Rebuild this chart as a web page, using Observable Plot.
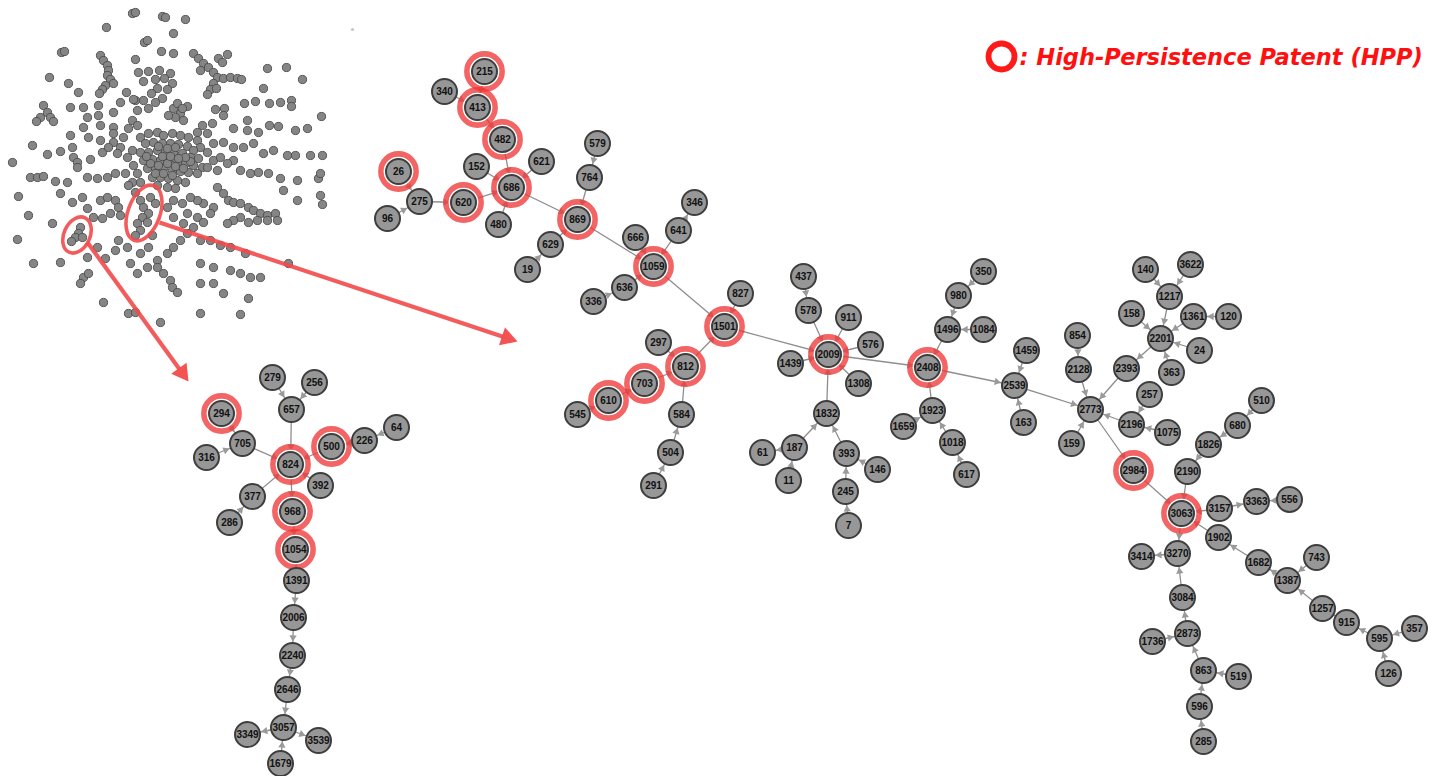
<!DOCTYPE html>
<html><head><meta charset="utf-8">
<script src="https://cdn.jsdelivr.net/npm/d3@7"></script>
<script src="https://cdn.jsdelivr.net/npm/@observablehq/plot@0.6"></script>
<style>body{margin:0;background:#fff}#chart{width:1445px;height:776px}</style>
</head><body><div id="chart"></div>
<script>
// ---- data ----
const nodeIds = [294,279,256,657,705,316,824,500,226,64,392,377,286,968,1054,1391,2006,2240,2646,3057,3349,3539,1679,
215,340,413,482,26,152,621,686,275,620,96,480,579,764,869,346,641,629,666,19,1059,636,336,827,1501,297,812,703,610,545,584,504,291,
437,578,911,576,2009,1439,1308,1832,187,61,11,393,146,245,7,350,980,1496,1084,2408,1923,1659,1018,617,1459,2539,163,854,2128,2773,159,
140,3622,1217,158,1361,120,2201,24,2393,363,257,2196,1075,510,680,1826,2190,2984,3063,3157,3363,556,1902,3414,3270,1682,743,1387,3084,
1257,915,2873,1736,595,357,863,519,126,596,285];
const nodeX = [221,272,314,291,242,206,290,331,364,396,320,252,229,292,295,296,293,292,287,283,247,318,280,
484,444,477,502,398,476,541,511,419,463,387,498,597,589,577,694,678,550,635,527,653,624,593,740,724,658,685,644,608,577,681,670,653,
803,808,848,870,828,790,858,826,794,762,788,846,877,845,848,983,958,947,983,927,932,903,952,966,1026,1014,1023,1077,1078,1090,1071,
1145,1190,1169,1131,1193,1228,1160,1199,1126,1171,1149,1131,1167,1261,1237,1208,1187,1133,1181,1219,1256,1289,1218,1141,1177,1258,1316,1287,1182,
1322,1346,1187,1152,1379,1414,1203,1238,1388,1199,1203];
const nodeY = [413,377,382,409,443,457,464,446,440,427,485,496,522,511,549,580,617,655,689,727,734,740,763,
71,91,107,139,171,166,161,187,201,202,218,224,143,177,219,202,230,244,237,269,266,287,301,293,326,342,366,383,400,414,414,452,485,
276,310,317,344,354,363,383,413,447,452,480,453,469,491,525,271,295,329,329,367,410,426,442,474,350,385,422,335,369,409,443,
269,264,296,313,316,316,338,350,368,372,394,424,432,400,425,444,471,470,513,508,501,499,537,556,553,562,557,580,597,
608,622,633,641,638,628,670,676,673,706,741];
const hppIds = [294,824,500,968,1054,215,413,482,26,686,620,869,1059,1501,812,703,610,2009,2408,2984,3063];
const edgeSource = [279,256,657,294,316,705,500,226,64,392,377,286,824,968,1054,1391,2006,2240,2646,3057,3057,1679,
215,340,413,482,152,621,480,620,26,96,275,686,579,764,629,19,869,666,641,641,636,336,1059,827,812,297,703,610,545,584,504,291,
1501,578,437,911,576,1439,1308,1832,187,187,11,393,146,245,7,2009,1496,980,350,1084,1923,1659,1018,617,2408,1459,163,2539,2128,854,
2393,2201,1217,140,3622,158,1361,120,24,363,2196,257,1075,159,2773,2984,2190,1826,680,510,3157,3157,556,1902,1682,1387,743,1257,915,
595,357,126,3063,3270,3084,2873,1736,863,519,596,285];
const edgeTarget = [657,657,824,705,705,824,824,500,226,824,824,377,968,1054,1391,2006,2240,2646,3057,3349,3539,3057,
413,413,482,686,686,686,686,686,275,275,620,869,764,869,869,629,1059,1059,1059,346,1059,636,1501,1501,1501,812,812,703,610,812,584,504,
2009,2009,578,2009,2009,2009,2009,2009,1832,61,187,1832,393,393,245,2408,2408,1496,980,1496,2408,1923,1923,1018,2539,2539,2539,2773,2773,2128,
2773,2393,2201,1217,1217,2201,2201,1361,2201,2201,2773,2196,2196,2773,2984,3063,3063,2190,1826,680,3063,3363,3363,3063,1902,1682,1387,1387,1257,
915,595,595,3270,3414,3270,3084,2873,2873,863,863,596];
// overview network (small dots, image pixels)
const overviewDots = [[132,13],[135,12],[162,16],[165,17],[185,19],[106,27],[173,33],[144,42],[147,40],[61,52],[64,51],[161,51],[173,53],[135,59],
[100,55],[103,60],[107,65],[108,70],[107,75],[110,79],[113,83],[105,85],[102,89],[99,93],
[193,53],[198,58],[203,63],[208,67],[200,70],[213,72],[218,58],[222,62],[227,54],[217,77],[223,78],[230,77],[237,78],[241,79],[213,83],[210,89],[207,94],[216,88],
[49,77],[68,83],[78,92],
[138,72],[148,71],[159,70],[170,73],[143,81],[155,79],[164,78],[172,83],[157,88],[167,89],[151,93],[162,98],[126,92],[135,100],[143,100],[155,102],[148,108],[137,110],[133,99],
[267,68],[286,67],[302,79],[263,88],[255,101],[244,103],[269,103],[280,102],[291,100],[291,106],[321,116],
[224,108],[215,109],[187,106],[173,108],[180,113],[183,120],[175,117],[168,115],[177,103],[182,108],
[43,105],[47,112],[40,117],[50,117],[36,121],[53,121],
[70,107],[83,107],[98,105],[87,117],[98,115],[113,112],[120,102],[132,120],[128,128],[137,125],[113,127],[113,133],[100,125],[83,127],[70,135],[88,137],[100,140],[113,142],[123,137],
[202,125],[212,123],[223,115],[233,128],[247,120],[247,130],[258,132],[269,125],[278,126],[295,130],[307,128],[207,133],[197,132],
[32,145],[47,154],[60,151],[72,147],[73,157],[77,162],[90,159],[102,152],[108,147],[120,147],[117,153],
[140,137],[148,133],[157,132],[163,135],[172,133],[180,135],[188,137],[197,140],[200,147],[207,152],
[145,143],[153,142],[162,143],[170,143],[178,144],[187,146],[193,150],
[140,152],[148,152],[157,150],[165,152],[173,152],[182,153],[190,157],[198,158],
[143,160],[152,159],[160,160],[168,160],[177,162],[185,163],[193,165],[202,167],
[147,168],[155,168],[163,168],[172,170],[180,171],[188,172],[197,173],
[152,177],[160,177],[168,178],[177,180],[185,182],[157,185],[167,187],[175,188],
[132,150],[127,157],[133,165],[137,173],[140,182],[207,167],[213,160],[220,157],[217,170],
[158,146],[167,148],[175,147],[150,163],[158,165],[167,163],[175,166],[183,168],[190,161],[146,156],[185,157],[162,156],[170,156],[178,158],[155,173],[163,173],[172,175],
[213,143],[223,142],[233,147],[243,147],[253,143],[263,153],[273,150],[287,155],[295,155],[310,155],[322,155],[233,160],[227,163],[240,170],[250,173],[258,172],[268,173],[280,178],[297,180],[318,178],[283,190],[297,200],[320,195],[322,204],
[12,162],[30,177],[37,177],[43,176],[55,181],[67,182],[77,167],[87,177],[97,178],[107,177],[115,173],[125,173],[132,182],[18,196],[28,215],[52,223],[60,193],[72,202],[82,197],[87,208],[100,200],[107,197],[115,200],[118,207],[110,213],[102,218],[93,217],[120,215],[128,185],[135,192],
[140,200],[143,207],[148,213],[142,217],[137,223],[147,222],[140,230],[150,197],[155,203],
[80,227],[78,233],[75,237],[82,237],[71,241],
[217,187],[223,193],[228,200],[233,202],[240,203],[248,207],[253,210],[260,213],[267,215],[275,213],[277,220],[267,220],[257,220],[248,222],[240,217],[233,220],[227,223],[213,207],[210,213],[203,203],[197,200],[190,197],[182,203],[173,200],[167,207],[173,217],[187,213],[197,217],[203,222],[193,227],[183,223],
[17,239],[33,263],[60,262],[87,257],[97,247],[83,277],[80,283],[88,273],[105,258],[118,240],[115,250],[127,247],[135,235],[152,235],[148,247],[140,253],[130,263],[137,273],[147,267],[157,260],[167,253],[173,247],[180,240],[187,233],[200,240],[210,240],[220,245],[230,247],[245,253],
[157,267],[163,273],[170,280],[172,287],[177,292],[200,263],[213,267],[230,270],[240,273],[250,277],[260,277],[200,283],[213,283],[223,293],[248,298],[103,302],[128,313],[135,312],[160,322],[200,313],[240,314],[288,263],[320,173]];
const strayDot = [[352,29]];
// zoom call-outs
const calloutCx = [77,144], calloutCy = [235,213], calloutRx = [13,16], calloutRy = [19,29], calloutAngle = [25,20];
const arrowX1 = [87,159], arrowY1 = [242,222], arrowX2 = [188,517], arrowY2 = [381,341];
const legendText = ": High-Persistence Patent (HPP)";
const legendPos = {ring:[1001,56], text:[1019,57]};

// ---- derived ----
const nodeIndex = new Map(nodeIds.map((id,i)=>[id,i]));
const nodes = nodeIds.map((id,i)=>({id, x:nodeX[i], y:nodeY[i], hpp:hppIds.includes(id)}));
const R = 13.8;
function head(x1,y1,x2,y2,inset,r){
  const dx=x2-x1, dy=y2-y1, L=Math.hypot(dx,dy), ux=dx/L, uy=dy/L;
  const tx=x2-ux*inset, ty=y2-uy*inset, off=1.555*r;
  return {x1,y1,x2,y2,tx,ty,hx:tx-ux*off,hy:ty-uy*off,bx:tx-ux*off*1.4,by:ty-uy*off*1.4,angle:Math.atan2(dx,-dy)*180/Math.PI};
}
const edges = edgeSource.map((s,i)=>{
  const a=nodes[nodeIndex.get(s)], b=nodes[nodeIndex.get(edgeTarget[i])];
  return head(a.x,a.y,b.x,b.y,R,2.7);
});
const callArrows = arrowX1.map((x,i)=>head(x,arrowY1[i],arrowX2[i],arrowY2[i],0,7));
const callouts = calloutCx.map((cx,i)=>({cx,cy:calloutCy[i],rx:calloutRx[i],ry:calloutRy[i],a:calloutAngle[i]}));
const red = "#f24a4a";

const ellipseMark = (index, scales) => {
  const g = d3.create("svg:g");
  const sx = scales && scales.x ? scales.x : (v=>v), sy = scales && scales.y ? scales.y : (v=>v);
  for (const c of callouts) {
    g.append("ellipse").attr("cx",0).attr("cy",0).attr("rx",c.rx).attr("ry",c.ry)
     .attr("transform",`translate(${sx(c.cx)},${sy(c.cy)}) rotate(${c.a})`)
     .attr("fill","none").attr("stroke",red).attr("stroke-opacity",0.9).attr("stroke-width",3.6);
  }
  return g.node();
};

const chart = Plot.plot({
  width:1445, height:776, margin:0,
  x:{domain:[0,1445], range:[0,1445], axis:null},
  y:{domain:[0,776], range:[0,776], axis:null},
  marks:[
    Plot.dot(overviewDots,{x:d=>d[0],y:d=>d[1],r:4.1,fill:"#858585",stroke:"#4a4a4a",strokeWidth:0.9}),
    Plot.dot(strayDot,{x:d=>d[0],y:d=>d[1],r:1.6,fill:"#c8c8c8"}),
    ellipseMark,
    Plot.link(callArrows,{x1:"x1",y1:"y1",x2:"bx",y2:"by",stroke:red,strokeOpacity:0.9,strokeWidth:4.2}),
    Plot.dot(callArrows,{x:"hx",y:"hy",symbol:"triangle",r:7,rotate:"angle",fill:red,fillOpacity:0.95}),
    Plot.link(edges,{x1:"x1",y1:"y1",x2:"x2",y2:"y2",stroke:"#8e8e8e",strokeWidth:1.3}),
    Plot.dot(edges,{x:"hx",y:"hy",symbol:"triangle",r:2.7,rotate:"angle",fill:"#9a9a9a"}),
    Plot.dot(nodes.filter(d=>d.hpp),{x:"x",y:"y",r:17.5,fill:"none",stroke:"#f03838",strokeOpacity:0.78,strokeWidth:5.8}),
    Plot.dot(nodes.filter(d=>d.hpp),{x:"x",y:"y",r:14.2,fill:"none",stroke:"#fff",strokeWidth:1.3}),
    Plot.dot(nodes,{x:"x",y:"y",r:12.5,fill:"#979797",stroke:"#3e3e3e",strokeWidth:2}),
    Plot.text(nodes,{x:"x",y:"y",text:d=>String(d.id),fontSize:10,fontWeight:"bold",fill:"#111",fontFamily:"Liberation Sans, Arial, sans-serif"}),
    Plot.dot([legendPos.ring],{x:d=>d[0],y:d=>d[1],r:13,fill:"none",stroke:"#ff1a1a",strokeWidth:5.8}),
    Plot.text([legendPos.text],{x:d=>d[0],y:d=>d[1],text:()=>legendText,textAnchor:"start",fontSize:22.5,fontWeight:"bold",fontStyle:"italic",fill:"#ff1010",fontFamily:"DejaVu Sans, Verdana, sans-serif"})
  ]
});
document.getElementById("chart").append(chart);
</script></body></html>
